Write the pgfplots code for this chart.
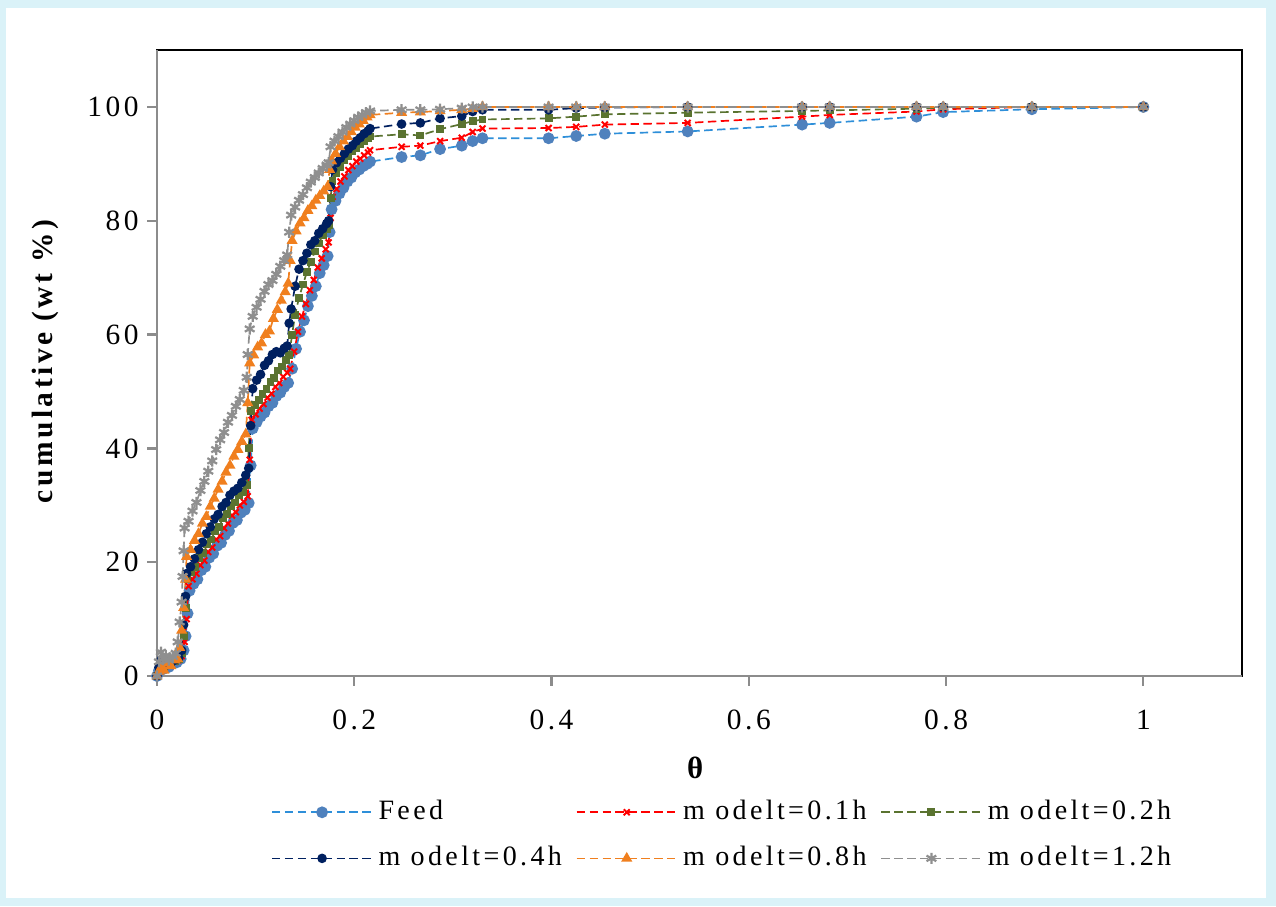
\documentclass[border=0pt]{standalone}
\usepackage{pgfplots}
\pgfplotsset{compat=1.18}
\usepackage{fontspec}
\setmainfont{Liberation Serif}[LetterSpace=12]
\definecolor{bgc}{HTML}{DAF2F8}
\definecolor{feedline}{HTML}{2E8FD9}
\definecolor{feedmark}{HTML}{4F81BD}
\definecolor{mred}{HTML}{FF0000}
\definecolor{mgreen}{HTML}{5A7330}
\definecolor{mnavy}{HTML}{002060}
\definecolor{morange}{HTML}{F07F1E}
\definecolor{mgray}{HTML}{8F8F8F}
\definecolor{axgray}{HTML}{8C8C8C}
\begin{document}
\begin{tikzpicture}
\fill[bgc] (0,0) rectangle (16cm,11.361cm);
\fill[white] (0.075cm,0.1cm) rectangle (15.87cm,11.26cm);
\begin{axis}[
  at={(1.9686cm,2.884cm)}, anchor=south west,
  scale only axis, width=13.605cm, height=7.849cm,
  xmin=0, xmax=1.1, ymin=0, ymax=110,
  xtick={0,0.2,0.4,0.6,0.8,1}, ytick={0,20,40,60,80,100},
  xtick pos=bottom, ytick pos=left,
  tick align=outside, major tick length=3.5pt,
  tick style={axgray, line width=0.8pt},
  axis line style={black, line width=0.6pt},
  /pgf/number format/assume math mode=true,
  every tick label/.append style={font=\fontsize{10.5}{12}\selectfont},
  xticklabel style={yshift=-5pt},
  yticklabel style={xshift=0.5pt},
  xlabel={\textbf{θ}},
  xlabel style={at={(axis description cs:0.4977,-0.147)}, anchor=center, font=\fontsize{11}{13}\selectfont},
  ylabel={\textbf{cumulative (wt \%)}},
  ylabel style={at={(axis description cs:-0.1032,0.505)}, anchor=center, font=\fontsize{10.5}{12}\selectfont},
  clip=false,
  legend columns=3,
  legend style={draw=none, fill=none, at={(0.5226,-0.18)}, anchor=north,
    font=\fontsize{10}{12}\selectfont, row sep=4pt,
    /tikz/every even column/.append style={column sep=3pt},
    /tikz/every odd column/.append style={column sep=0pt}},
  legend cell align=left,
  legend image code/.code={\draw[mark repeat=2, mark phase=2, #1] plot coordinates {(0cm,0cm) (0.627cm,0cm) (1.254cm,0cm)};},
  every axis plot/.append style={line width=0.6pt, dash pattern=on 3pt off 1.6pt},
]
% Feed
\addplot[color=feedline, mark=*, mark size=1.8pt, mark options={solid, fill=feedmark, draw=feedmark}] coordinates {
(0,0) (0.002,1.0) (0.004,1.8) (0.006,1.2) (0.009,2.0) (0.012,1.6) (0.016,2.2) (0.02,2.4) (0.024,3.0) (0.027,4.5) (0.029,7) (0.031,11) (0.033,15.0)
(0.037,16.2) (0.041,17.0) (0.045,18.6) (0.049,19.2) (0.053,20.8) (0.057,21.5) (0.061,22.9) (0.065,23.4) (0.069,24.8) (0.073,25.5) (0.077,26.9) (0.081,27.4) (0.085,28.7) (0.089,29.2) (0.093,30.4)
(0.095,37) (0.097,43.5)
(0.101,44.6) (0.105,45.6) (0.109,46.3) (0.113,47.4) (0.117,48.0) (0.121,49.2) (0.125,49.8) (0.129,50.8) (0.133,51.5)
(0.137,54.0) (0.141,57.5) (0.145,60.5) (0.149,62.5) (0.153,65.0) (0.157,66.8) (0.161,68.5) (0.165,70.8) (0.169,72.2) (0.173,73.8)
(0.175,78) (0.177,82.0) (0.181,83.5) (0.185,84.8) (0.189,85.8) (0.193,86.9) (0.197,87.6) (0.201,88.5) (0.205,89.0) (0.209,89.6) (0.213,90.0) (0.216,90.4)
(0.248,91.2) (0.267,91.5) (0.287,92.6) (0.309,93.2) (0.32,94.0) (0.33,94.5) (0.397,94.5) (0.425,94.9) (0.454,95.3) (0.538,95.7) (0.654,96.9) (0.682,97.2) (0.77,98.3) (0.797,99.1) (0.887,99.6) (1.0,100)
};
\addlegendentry{Feed}
% 0.1h
\addplot[color=mred, mark=x, mark size=1.5pt, mark options={solid, line width=0.7pt}] coordinates {
(0,0) (0.002,0.8) (0.004,2.0) (0.007,1.4) (0.01,2.2) (0.014,1.8) (0.018,2.5) (0.022,2.8) (0.025,3.5) (0.028,6) (0.030,10) (0.032,15.8)
(0.036,17.0) (0.040,18.0) (0.044,19.5) (0.048,20.3) (0.052,21.8) (0.056,22.6) (0.060,24.0) (0.064,24.6) (0.068,26.0) (0.072,26.8) (0.076,28.2) (0.080,28.8) (0.084,30.0) (0.088,30.6) (0.092,31.6)
(0.094,38) (0.096,45.0) (0.100,46.0) (0.104,47.0) (0.108,47.8) (0.112,48.9) (0.116,49.6) (0.120,50.8) (0.124,51.5) (0.128,52.6) (0.132,53.3) (0.135,54.0)
(0.139,57) (0.143,60.5) (0.147,63.2) (0.151,65.4) (0.155,67.8) (0.159,69.6) (0.163,71.8) (0.167,73.4) (0.171,75.0) (0.174,76.2)
(0.176,80.5) (0.178,84.2) (0.182,85.6) (0.186,86.9) (0.190,87.8) (0.194,88.9) (0.198,89.6) (0.202,90.4) (0.206,90.9) (0.210,91.5) (0.214,92.0) (0.216,92.4)
(0.248,93.0) (0.267,93.2) (0.287,94.0) (0.309,94.6) (0.32,95.6) (0.33,96.2) (0.397,96.3) (0.425,96.5) (0.454,96.9) (0.538,97.2) (0.654,98.3) (0.682,98.6) (0.77,99.2) (0.797,99.6) (0.887,100) (1.0,100)
};
\addlegendentry{m odelt=0.1h}
% 0.2h
\addplot[color=mgreen, mark=square*, mark size=1.1pt, mark options={solid, fill=mgreen}] coordinates {
(0,0) (0.002,1.2) (0.004,2.4) (0.007,1.6) (0.01,2.3) (0.014,2.0) (0.018,2.6) (0.022,3.0) (0.025,4.0) (0.027,7) (0.029,12) (0.031,17.0)
(0.035,18.2) (0.039,19.2) (0.043,20.8) (0.047,21.6) (0.051,23.2) (0.055,24.0) (0.059,25.5) (0.063,26.2) (0.067,27.8) (0.071,28.5) (0.075,29.9) (0.079,30.5) (0.083,31.8) (0.087,32.4) (0.091,33.5)
(0.093,40) (0.095,46.5) (0.099,47.6) (0.103,48.5) (0.107,49.6) (0.111,50.4) (0.115,51.7) (0.119,52.4) (0.123,53.7) (0.127,54.4) (0.131,55.6) (0.134,56.4)
(0.137,60) (0.140,63.5) (0.144,66.5) (0.148,68.8) (0.152,71.0) (0.156,72.8) (0.160,74.6) (0.164,76.0) (0.168,77.5) (0.172,78.6) (0.174,79.2)
(0.176,84) (0.178,87.0) (0.182,88.4) (0.186,89.5) (0.190,90.6) (0.194,91.4) (0.198,92.2) (0.202,92.8) (0.206,93.5) (0.210,94.0) (0.214,94.5) (0.216,94.8)
(0.248,95.2) (0.267,95.0) (0.287,96.1) (0.309,97.0) (0.32,97.5) (0.33,97.8) (0.397,98.0) (0.425,98.3) (0.454,98.7) (0.538,99.0) (0.654,99.3) (0.682,99.4) (0.77,99.7) (0.797,99.9) (0.887,100) (1.0,100)
};
\addlegendentry{m odelt=0.2h}
% 0.4h
\addplot[color=mnavy, mark=*, mark size=1.4pt, mark options={solid, fill=mnavy}] coordinates {
(0,0) (0.002,1.5) (0.004,2.8) (0.007,1.8) (0.01,2.5) (0.014,2.2) (0.018,2.8) (0.022,3.2) (0.025,4.5) (0.027,9) (0.029,14) (0.030,18.0)
(0.034,19.2) (0.038,20.6) (0.042,22.2) (0.046,23.5) (0.050,25.0) (0.054,26.2) (0.058,27.6) (0.062,28.4) (0.066,29.8) (0.070,30.5) (0.074,31.8) (0.078,32.5) (0.082,33.0) (0.086,34.0) (0.090,35.3) (0.093,36.5)
(0.095,44) (0.097,50.5) (0.101,52.0) (0.105,53.0) (0.109,54.6) (0.113,55.4) (0.117,56.5) (0.121,57.0) (0.125,56.8) (0.129,57.6) (0.132,58.0)
(0.134,62) (0.136,64.5) (0.140,68.5) (0.144,71.5) (0.148,73.0) (0.152,74.3) (0.156,75.8) (0.160,76.5) (0.164,77.8) (0.168,78.6) (0.172,79.5) (0.174,80.0)
(0.176,86) (0.178,89.0) (0.182,90.2) (0.186,91.0) (0.190,91.8) (0.194,92.6) (0.198,93.2) (0.202,94.0) (0.206,94.6) (0.210,95.3) (0.214,95.8) (0.216,96.2)
(0.248,97.0) (0.267,97.2) (0.287,98.0) (0.309,98.4) (0.32,99.2) (0.33,99.5) (0.397,99.5) (0.425,99.8) (0.454,99.9) (0.538,100) (0.654,100) (0.682,100) (0.77,100) (0.797,100) (0.887,100) (1.0,100)
};
\addlegendentry{m odelt=0.4h}
% 0.8h
\addplot[color=morange, mark=triangle*, mark size=1.7pt, mark options={solid, fill=morange}] coordinates {
(0,0) (0.002,0.8) (0.004,1.5) (0.007,1.0) (0.01,2.2) (0.014,1.8) (0.018,2.8) (0.021,3.0) (0.023,5) (0.025,8) (0.027,12) (0.029,17) (0.030,21.0)
(0.034,22.2) (0.038,23.8) (0.042,25.0) (0.046,26.8) (0.050,28.0) (0.054,29.8) (0.058,31.2) (0.062,32.8) (0.066,34.2) (0.070,35.8) (0.074,37.0) (0.078,38.6) (0.082,39.8) (0.086,41.2) (0.090,42.5)
(0.092,48) (0.094,55.0)
(0.098,56.4) (0.102,57.8) (0.106,58.5) (0.110,60.0) (0.114,60.6) (0.118,62.8) (0.122,64.4) (0.126,66.0) (0.130,67.5) (0.133,69.0)
(0.135,73) (0.137,76.5) (0.141,78.2) (0.145,79.6) (0.149,80.5) (0.153,81.8) (0.157,82.6) (0.161,83.6) (0.165,84.4) (0.169,85.2) (0.173,86.0)
(0.175,89) (0.177,90.5) (0.181,91.8) (0.185,93.0) (0.189,94.0) (0.193,94.8) (0.197,95.6) (0.201,96.4) (0.205,97.0) (0.209,97.6) (0.213,98.2) (0.216,98.6)
(0.248,99.0) (0.267,99.1) (0.287,99.3) (0.309,99.5) (0.32,99.7) (0.33,100) (0.397,100) (0.425,100) (0.454,100) (0.538,100) (0.654,100) (0.682,100) (0.77,100) (0.797,100) (0.887,100) (1.0,100)
};
\addlegendentry{m odelt=0.8h}
% 1.2h
\addplot[color=mgray, mark=asterisk, mark size=2pt, mark options={solid, line width=0.8pt}] coordinates {
(0,0) (0.002,2.5) (0.004,4.2) (0.006,3.0) (0.009,3.6) (0.012,2.8) (0.016,3.4) (0.019,4.0) (0.021,6) (0.023,9.5) (0.025,13) (0.026,17.5) (0.027,22) (0.028,26.0)
(0.032,27.2) (0.036,29.0) (0.040,30.5) (0.044,32.6) (0.048,34.2) (0.052,36.0) (0.056,37.8) (0.060,39.8) (0.064,41.5) (0.068,42.8) (0.072,44.6) (0.076,45.8) (0.080,47.4) (0.084,48.6) (0.088,50.2) (0.091,52.5)
(0.092,56.5) (0.094,61.0) (0.097,63.2)
(0.101,64.8) (0.105,66.2) (0.109,67.6) (0.113,68.8) (0.117,69.5) (0.121,70.6) (0.125,72.0) (0.129,73.0) (0.132,74.0)
(0.134,78) (0.136,81.0) (0.140,82.4) (0.144,83.6) (0.148,84.6) (0.152,85.8) (0.156,86.8) (0.160,87.6) (0.164,88.4) (0.168,89.2) (0.172,89.8) (0.174,90.2)
(0.176,93) (0.180,94.0) (0.184,94.8) (0.188,95.6) (0.192,96.4) (0.196,97.0) (0.200,97.6) (0.204,98.2) (0.208,98.6) (0.212,99.0) (0.216,99.3)
(0.248,99.5) (0.267,99.5) (0.287,99.6) (0.309,99.8) (0.32,100) (0.33,100) (0.397,100) (0.425,100) (0.454,100) (0.538,100) (0.654,100) (0.682,100) (0.77,100) (0.797,100) (0.887,100) (1.0,100)
};
\addlegendentry{m odelt=1.2h}
\draw[axgray, line width=0.9pt, solid] (rel axis cs:0,0) -- (rel axis cs:0,1);
\draw[axgray, line width=0.9pt, solid] (rel axis cs:0,0) -- (rel axis cs:1,0);
\end{axis}
\end{tikzpicture}
\end{document}
